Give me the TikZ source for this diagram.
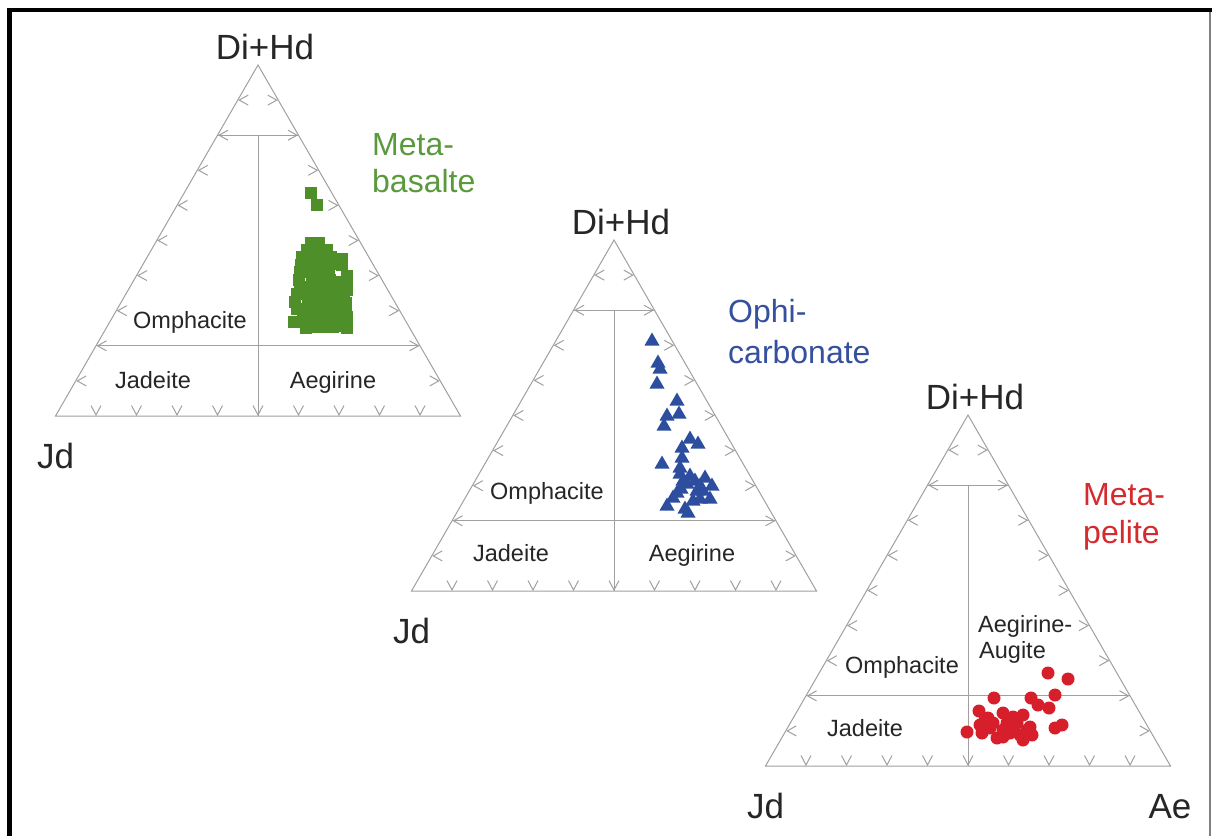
\documentclass[tikz,border=0pt]{standalone}
\usepackage{fontspec}
\setmainfont{Liberation Sans}
\usetikzlibrary{calc}
\definecolor{gridgray}{HTML}{A0A0A0}
\definecolor{mbgreen}{HTML}{4E8F2A}
\definecolor{ocblue}{HTML}{2D4E9E}
\definecolor{mpred}{HTML}{D61F2A}
\definecolor{txtgreen}{HTML}{5A9A3C}
\definecolor{txtblue}{HTML}{34509E}
\definecolor{txtred}{HTML}{D52A2E}
\definecolor{txtdark}{HTML}{262626}
\tikzset{
  gridline/.style={draw=gridgray, line width=1pt},
  tickmark/.style={draw=gridgray, line width=1pt},
  apexlabel/.style={font=\fontsize{35}{40}\selectfont, text=txtdark, inner sep=0pt, anchor=base},
  regionlabel/.style={font=\fontsize{23.5}{28}\selectfont, text=txtdark, inner sep=0pt, anchor=base},
  rocklabel/.style={font=\fontsize{32}{36}\selectfont, inner sep=0pt, anchor=base west},
}
% #1 prefix, #2 apex x, #3 apex y
\newcommand{\terndiagram}[3]{%
\begin{scope}[shift={(#2,#3)}]
  \coordinate (#1top) at (0,0);
  \coordinate (#1jd) at (-202.5,351);
  \coordinate (#1ae) at (202.5,351);
  \coordinate (#1ul) at (-40.5,70.2);
  \coordinate (#1ur) at (40.5,70.2);
  \coordinate (#1ll) at (-162,280.8);
  \coordinate (#1lr) at (162,280.8);
  \coordinate (#1um) at (0,70.2);
  \coordinate (#1bm) at (0,351);
  \draw[gridline] (#1top) -- (#1jd) -- (#1ae) -- cycle;
  \draw[gridline] (#1ul) -- (#1ur);
  \draw[gridline] (#1ll) -- (#1lr);
  \draw[gridline] (#1um) -- (#1bm);
  \foreach \i in {1,...,9}{
    \draw[tickmark] ({-20.25*\i+10.5},{35.1*\i-5}) -- ({-20.25*\i+1.5},{35.1*\i}) -- ({-20.25*\i+10.5},{35.1*\i+5});
    \draw[tickmark] ({20.25*\i-10.5},{35.1*\i-5}) -- ({20.25*\i-1.5},{35.1*\i}) -- ({20.25*\i-10.5},{35.1*\i+5});
    \draw[tickmark] ({-202.5+40.5*\i-5},{340.5}) -- ({-202.5+40.5*\i},{350}) -- ({-202.5+40.5*\i+5},{340.5});
  }
  \node[apexlabel] (#1toplabel) at (7,-6) {Di+Hd};
  \node[apexlabel] (#1jdlabel) at (-202.5,403) {Jd};
\end{scope}}

\begin{document}
\begin{tikzpicture}[x=1pt,y=-1pt]
\useasboundingbox (0,0) rectangle (1212,836);
\fill[white] (0,0) rectangle (1212,836);
% frame
\draw[black, line width=4.5pt] (7,10) -- (1212,10);
\draw[black, line width=5pt] (9.5,8) -- (9.5,836);
\draw[gray, line width=1.5pt] (1210,12) -- (1210,836);

% ---------- diagram 1: Meta-basalte ----------
\terndiagram{a}{258}{65}
\node[regionlabel] (aomph) at (190,328) {Omphacite};
\node[regionlabel] (ajade) at (153,388) {Jadeite};
\node[regionlabel] (aaeg) at (333,388) {Aegirine};
\node[rocklabel, text=txtgreen] (arock1) at (372,155) {Meta-};
\node[rocklabel, text=txtgreen] (arock2) at (372,192) {basalte};
\foreach \x/\y in {311/192.5, 317/205,
  311/243, 319/243,
  307/250, 318/249, 327/250,
  302/257, 313/257, 322/257, 331/257, 342/259,
  301/265, 312/264, 321/264, 330/264, 342/265,
  300/272, 312/271, 321/271, 329/272, 347/276,
  299/280, 312/279, 321/279, 330/280, 339/282, 347/284,
  300/287, 312/286, 321/286, 330/286, 339/288, 347/290,
  297/294, 308/294, 317/294, 326/294, 335/294, 344/296,
  295/302, 308/302, 317/302, 326/302, 335/302, 346/303,
  297/309, 308/309, 317/309, 326/309, 335/309, 346/310,
  303/316, 312/316, 321/316, 330/316, 339/316, 347/317,
  294/322, 303/322, 312/322, 321/322, 330/322, 339/322, 347/323,
  306/328, 315/327, 324/327, 333/327, 341/326, 347/328}
  \fill[mbgreen] ({\x-6},{\y-6}) rectangle ({\x+6},{\y+6});

% ---------- diagram 2: Ophi-carbonate ----------
\terndiagram{b}{614}{240}
\node[regionlabel] (bomph) at (547,499) {Omphacite};
\node[regionlabel] (bjade) at (511,561) {Jadeite};
\node[regionlabel] (baeg) at (692,561) {Aegirine};
\node[rocklabel, text=txtblue] (brock1) at (728,322) {Ophi-};
\node[rocklabel, text=txtblue] (brock2) at (728,363) {carbonate};
\foreach \x/\y in {652/340, 658/362, 660/368, 657/383,
  677/400, 679/413, 667/415, 664/425,
  690/438, 698/443, 682/447,
  662/463, 682/457, 680/467,
  680/473, 690/475, 705/477, 712/485, 687/483, 697/490, 677/492,
  700/498, 710/498, 667/505, 685/508, 688/512, 673/497, 693/500,
  683/480, 703/490, 695/480, 681/488, 700/485}
  \fill[ocblue] (\x,{\y-7.5}) -- ({\x-7.5},{\y+5.5}) -- ({\x+7.5},{\y+5.5}) -- cycle;

% ---------- diagram 3: Meta-pelite ----------
\terndiagram{c}{968}{415}
\node[regionlabel] (comph) at (902,673) {Omphacite};
\node[regionlabel] (cjade) at (865,736) {Jadeite};
\node[regionlabel, anchor=base west] (caeg1) at (978,632) {Aegirine-};
\node[regionlabel, anchor=base west] (caeg2) at (979,658) {Augite};
\node[apexlabel] (caelabel) at (1170,818) {Ae};
\node[rocklabel, text=txtred] (crock1) at (1083,505) {Meta-};
\node[rocklabel, text=txtred] (crock2) at (1083,543) {pelite};
\foreach \x/\y in {1048/673, 1068/679, 1055/695, 1031/698, 1038/705, 1049/708,
  994/698, 979/711, 988/718, 1003/713, 1013/717, 1023/715,
  967/732, 980/725, 982/733, 993/723, 1003/730, 1003/737,
  1013/728, 1020/735, 1023/740, 1030/727, 1032/735,
  1055/728, 1062/725, 1007/723, 1017/723, 1027/730, 990/728, 997/738,
  985/720, 1010/733}
  \fill[mpred] (\x,\y) circle (6.5);
\end{tikzpicture}
\end{document}
